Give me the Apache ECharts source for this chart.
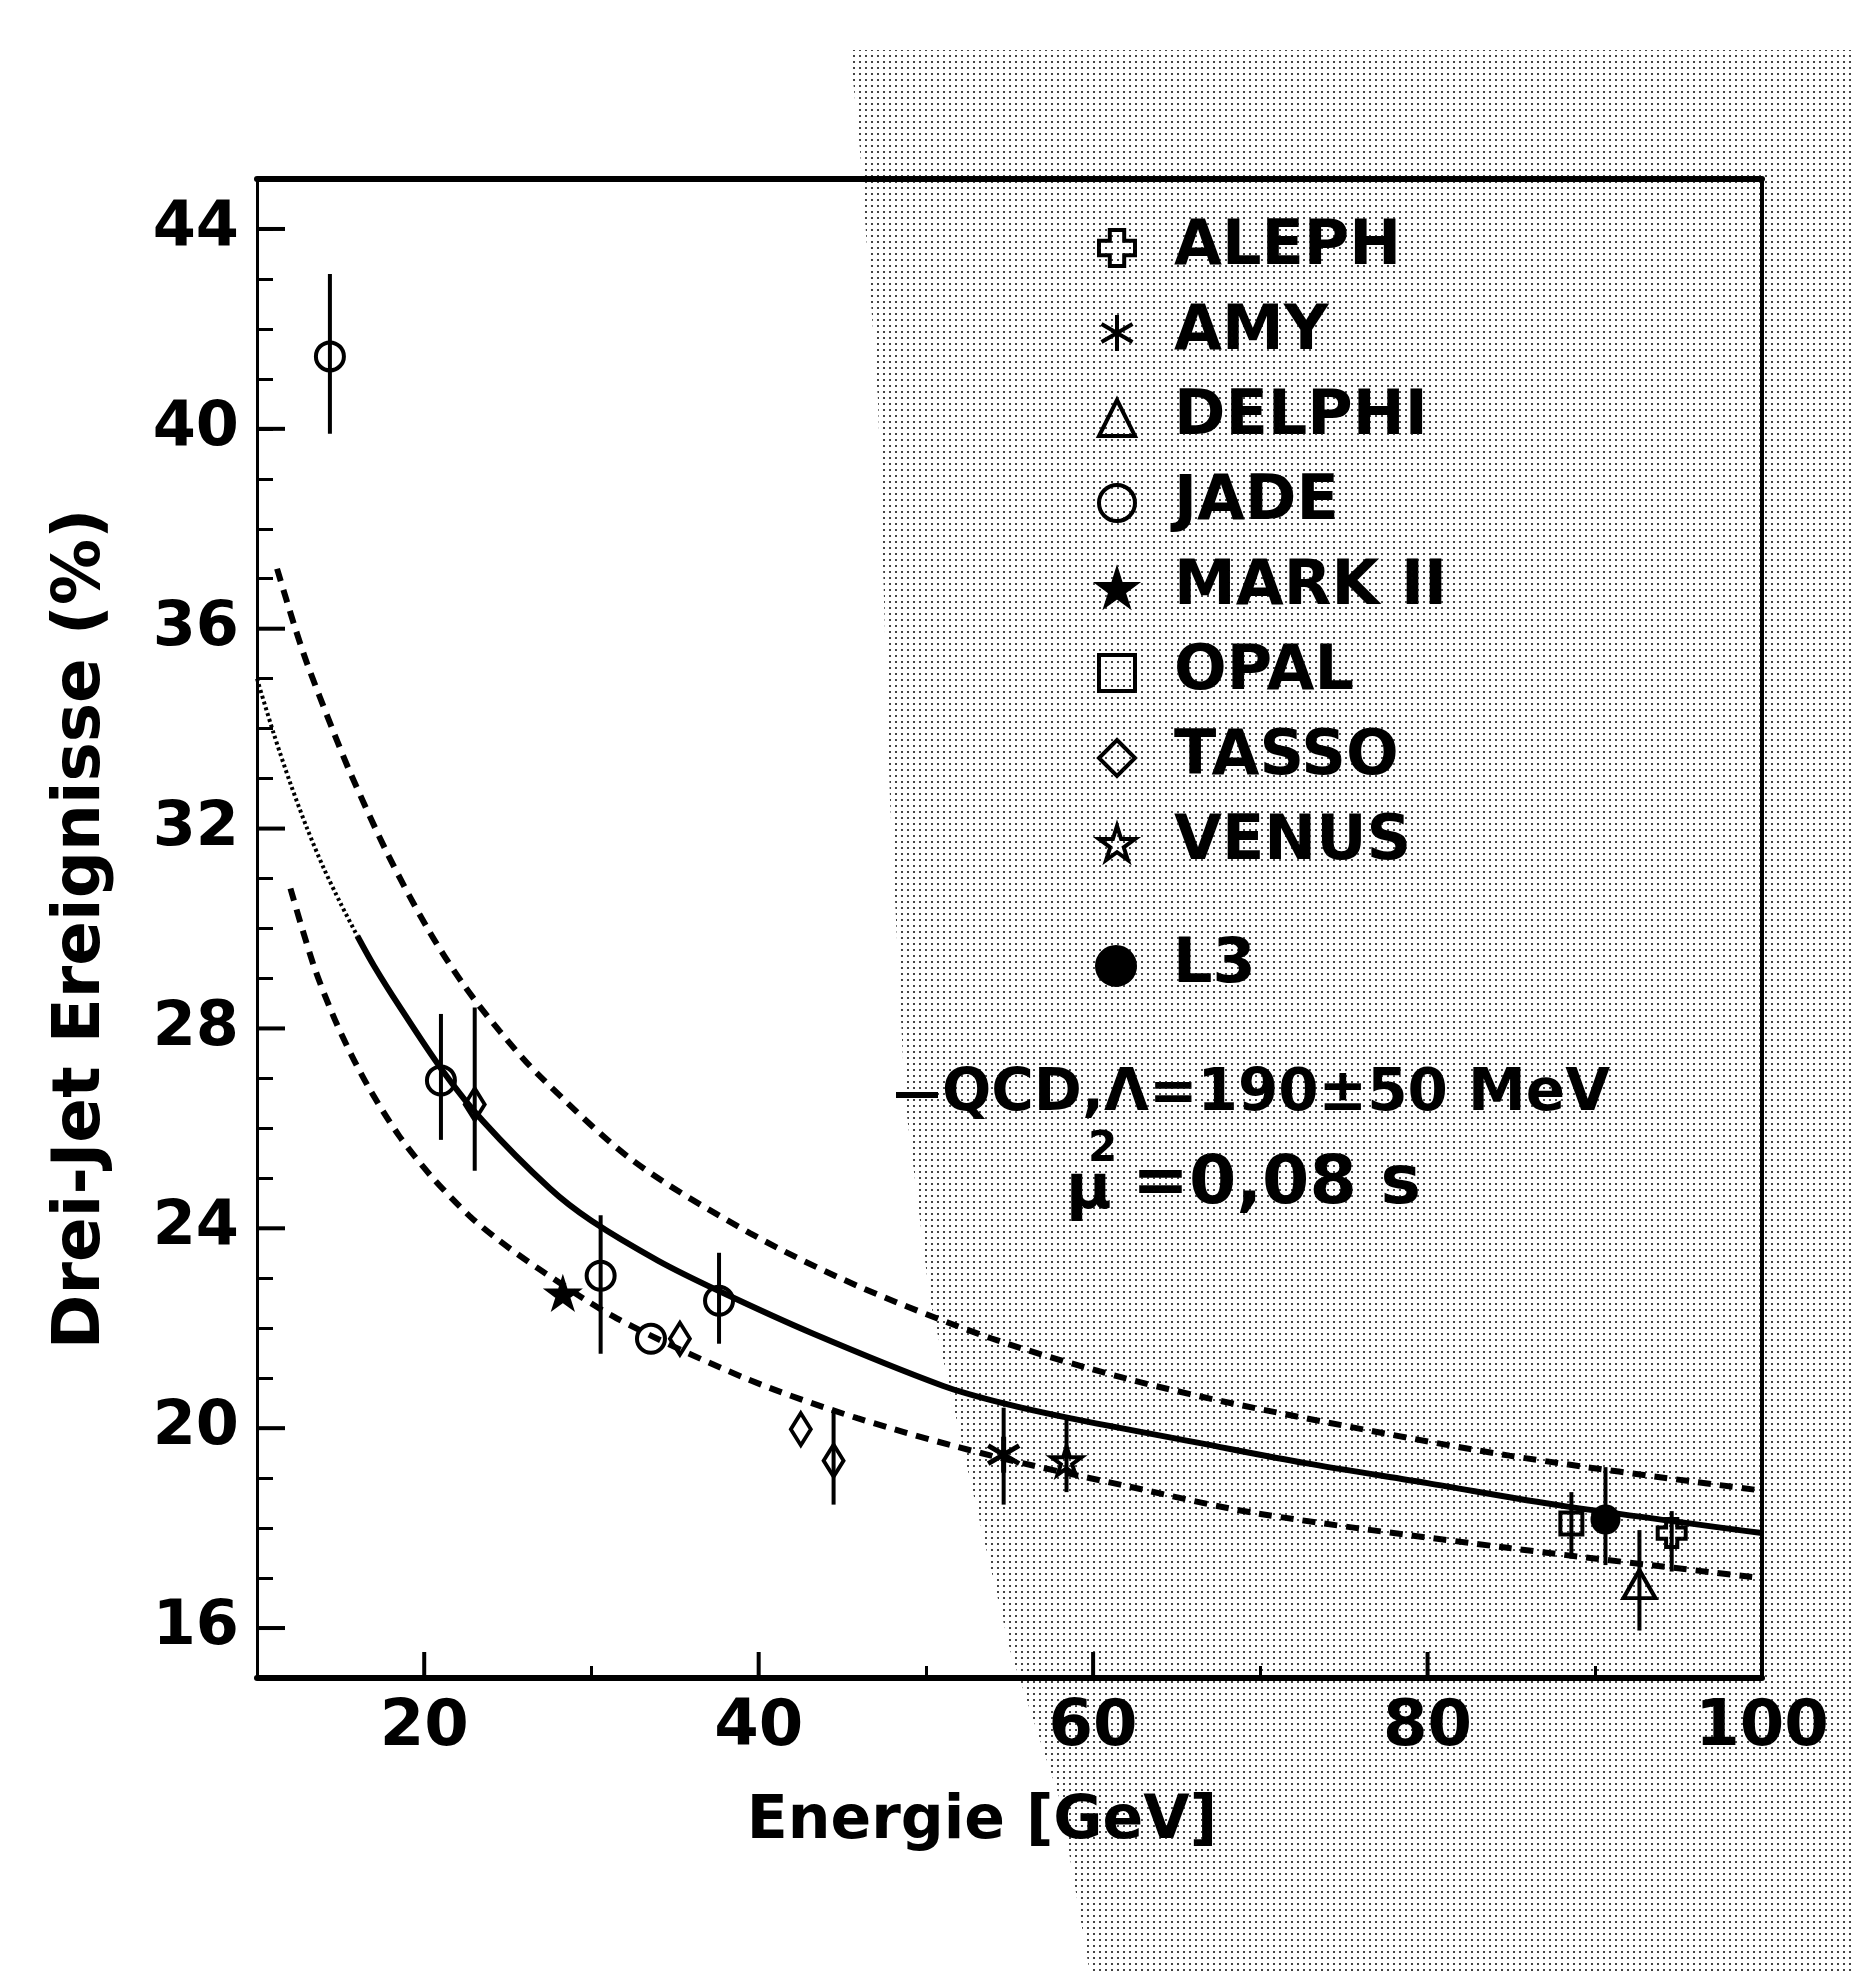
<!DOCTYPE html>
<html><head><meta charset="utf-8">
<script src="https://cdn.jsdelivr.net/npm/echarts@6/dist/echarts.min.js"></script>
<style>html,body{margin:0;padding:0;background:#fff}#c{width:1851px;height:1974px}</style>
</head><body><div id="c"></div>
<script>
// ---------- data ----------
const xTickLabels = [20, 40, 60, 80, 100];
const yTickLabels = [16, 20, 24, 28, 32, 36, 40, 44];
const experiments = ['ALEPH', 'AMY', 'DELPHI', 'JADE', 'MARK II', 'OPAL', 'TASSO', 'VENUS'];

const alephPts = [[94.6, 17.9]];
const alephErr = [[94.6, 17.13, 18.34]];
const amyPts = [[54.65, 19.47]];
const amyErr = [[54.65, 18.47, 20.41]];
const delphiPts = [[92.67, 16.88]];
const delphiErr = [[92.67, 15.95, 17.96]];
const jadePts = [[14.36, 41.45], [21.0, 26.96], [30.55, 23.05], [33.56, 21.79], [37.63, 22.55]];
const jadeErr = [[14.36, 39.9, 43.1], [21.0, 25.77, 28.29], [30.55, 21.49, 24.26], [37.63, 21.69, 23.51]];
const mark2Pts = [[28.29, 22.7]];
const opalPts = [[88.6, 18.09]];
const opalErr = [[88.6, 17.39, 18.72]];
const tassoPts = [[23.02, 26.48], [35.29, 21.79], [42.52, 19.98], [44.48, 19.35]];
const tassoErr = [[23.02, 25.15, 28.42], [44.48, 18.47, 20.36]];
const venusPts = [[58.41, 19.35]];
const venusErr = [[58.41, 18.72, 20.23]];
const l3Pts = [[90.64, 18.17]];
const l3Err = [[90.64, 17.26, 19.22]];

// QCD fit, Lambda = 190 MeV (solid) and the +-50 MeV band (dashed)
const qcdCurve = [[10, 35.0], [11, 33.9], [12, 32.9], [13, 32.0], [14, 31.2], [15, 30.5], [16, 29.85],
  [17, 29.25], [18.5, 28.45], [21, 27.2], [23.5, 26.15], [27.5, 24.8], [30, 24.15], [34, 23.35],
  [37.6, 22.75], [43.2, 21.9], [51, 20.85], [54.6, 20.5], [58.6, 20.2], [66.4, 19.7], [72.7, 19.3],
  [80, 18.9], [88, 18.45], [100, 17.9]];
const qcdUpper = [[11.2, 37.2], [12.2, 36.1], [13, 35.3], [14.5, 34.0], [15.6, 33.1], [17.8, 31.5],
  [20.2, 30.0], [22.3, 28.9], [24.5, 27.95], [26.9, 27.05], [32.5, 25.35], [39.5, 23.9], [45.9, 22.85],
  [53.9, 21.8], [61.9, 21.0], [69.7, 20.4], [84.9, 19.45], [100, 18.75]];
const qcdLower = [[12.0, 30.8], [13.35, 29.3], [14.5, 28.3], [15.6, 27.5], [16.8, 26.75], [18.5, 25.85],
  [20.4, 25.05], [22.7, 24.25], [24.5, 23.75], [26.8, 23.2], [31.5, 22.2], [39.2, 21.0], [45.9, 20.2],
  [53.9, 19.45], [61.9, 18.85], [69.7, 18.3], [84.9, 17.6], [100, 17.0]];

// ---------- chart ----------
const FONT = '"DejaVu Sans", "Liberation Sans", sans-serif';
const xMin = 10, xMax = 100, yMin = 15, yMax = 45;
const chart = echarts.init(document.getElementById('c'), null, {renderer: 'canvas'});

// halftone dot pattern of the scanned grey area
const pc = document.createElement('canvas');
pc.width = 6; pc.height = 6;
const g = pc.getContext('2d');
g.fillStyle = '#fff'; g.fillRect(0, 0, 6, 6);
g.fillStyle = '#444'; g.fillRect(1, 1, 2, 2);

const SYM = {
  cross: 'path://M3,0H7V3H10V7H7V10H3V7H0V3H3Z',
  asterisk: 'path://M5,0L5,10M0.7,2.5L9.3,7.5M0.7,7.5L9.3,2.5',
  star: 'path://M50,0L61,35L98,35L68,57L79,91L50,70L21,91L32,57L2,35L39,35Z'
};
function scatter(name, data, symbol, size, filled, bw) {
  return {
    name, type: 'scatter', data, symbol, symbolSize: size, symbolKeepAspect: true, z: 6,
    itemStyle: {color: filled ? '#000' : 'rgba(0,0,0,0)', borderColor: '#000', borderWidth: bw, opacity: 1},
    emphasis: {disabled: true}
  };
}
function curve(name, data, width, type) {
  return {type: 'line', name, data, showSymbol: false, smooth: 0.3, z: 3,
    lineStyle: {color: '#000', width, type}, emphasis: {disabled: true}};
}
const allErr = [].concat(alephErr, amyErr, delphiErr, jadeErr, opalErr, tassoErr, venusErr, l3Err);
const faint = qcdCurve.filter(p => p[0] <= 16);
const solid = qcdCurve.filter(p => p[0] >= 16);
const legendText = {fontSize: 62, fontWeight: 'bold', fontFamily: FONT, color: '#000', padding: [0, 0, 0, 34]};

const option = {
  backgroundColor: '#fff',
  animation: false,
  grid: {left: 257, right: 89, top: 179, bottom: 296, show: false},
  xAxis: [{
    type: 'value', min: xMin, max: xMax, interval: 10, position: 'bottom',
    axisLine: {show: true, onZero: false, lineStyle: {color: '#000', width: 6}},
    axisTick: {show: true, inside: true, length: 12, lineStyle: {color: '#000', width: 3}},
    splitLine: {show: false},
    axisLabel: {margin: 18, color: '#000', fontSize: 64, fontWeight: 'bold', fontFamily: FONT,
      formatter: v => xTickLabels.indexOf(v) >= 0 ? String(v) : ''}
  }, {
    type: 'value', min: xMin, max: xMax, position: 'top',
    axisLine: {show: true, onZero: false, lineStyle: {color: '#000', width: 6}},
    axisTick: {show: false}, axisLabel: {show: false}, splitLine: {show: false}
  }],
  yAxis: [{
    type: 'value', min: yMin, max: yMax, interval: 1, position: 'left',
    axisLine: {show: true, onZero: false, lineStyle: {color: '#000', width: 3}},
    axisTick: {show: true, inside: true, length: 16, lineStyle: {color: '#000', width: 3}},
    splitLine: {show: false},
    axisLabel: {margin: 18, color: '#000', fontSize: 62, fontWeight: 'bold', fontFamily: FONT,
      formatter: v => yTickLabels.indexOf(v) >= 0 ? String(v) : ''}
  }, {
    type: 'value', min: yMin, max: yMax, position: 'right',
    axisLine: {show: true, onZero: false, lineStyle: {color: '#000', width: 4}},
    axisTick: {show: false}, axisLabel: {show: false}, splitLine: {show: false}
  }],
  legend: [{
    data: experiments, orient: 'vertical', left: 1092, top: 212, itemWidth: 36, itemHeight: 36,
    itemGap: 23, selectedMode: false, itemStyle: {borderWidth: 4},
    textStyle: legendText
  }, {
    data: ['L3'], orient: 'vertical', left: 1090, top: 930, itemWidth: 40, itemHeight: 40, selectedMode: false,
    textStyle: Object.assign({}, legendText, {padding: [0, 0, 0, 32]})
  }],
  graphic: [
    {type: 'polygon', z: -100, silent: true,
      shape: {points: [[850, 50], [1851, 50], [1851, 1974], [1090, 1974], [1060, 1800], [1010, 1650],
        [970, 1480], [930, 1300], [905, 1100], [890, 800], [878, 400], [860, 150]]},
      style: {fill: {image: pc, repeat: 'repeat'}}},
    {type: 'text', x: 82, y: 929, rotation: Math.PI / 2, z: 10,
      style: {text: 'Drei-Jet Ereignisse (%)', font: 'bold 66px ' + FONT, fill: '#000', align: 'center', verticalAlign: 'middle'}},
    {type: 'text', x: 982, y: 1822, z: 10,
      style: {text: 'Energie [GeV]', font: 'bold 60px ' + FONT, fill: '#000', align: 'center', verticalAlign: 'middle'}},
    {type: 'line', z: 10, shape: {x1: 896, y1: 1095, x2: 938, y2: 1095}, style: {stroke: '#000', lineWidth: 6}},
    {type: 'text', x: 942, y: 1095, z: 10,
      style: {text: 'QCD,Λ=190±50 MeV', font: 'bold 58px ' + FONT, fill: '#000', align: 'left', verticalAlign: 'middle'}},
    {type: 'text', x: 1066, y: 1192, z: 10,
      style: {text: 'μ', font: 'bold 62px ' + FONT, fill: '#000', align: 'left', verticalAlign: 'middle'}},
    {type: 'text', x: 1088, y: 1150, z: 10,
      style: {text: '2', font: 'bold 42px ' + FONT, fill: '#000', align: 'left', verticalAlign: 'middle'}},
    {type: 'text', x: 1132, y: 1185, z: 10,
      style: {text: '=0,08 s', font: 'bold 68px ' + FONT, fill: '#000', align: 'left', verticalAlign: 'middle'}}
  ],
  series: [
    curve('QCD', solid, 6, 'solid'),
    curve('QCD-faint', faint, 4, [3, 3]),
    curve('QCD+', qcdUpper, 6, [13, 9]),
    curve('QCD-', qcdLower, 6, [13, 9]),
    {type: 'custom', name: 'errors', data: allErr, encode: {x: 0, y: [1, 2]}, z: 5, silent: true,
      renderItem: (params, api) => {
        const a = api.coord([api.value(0), api.value(1)]);
        const b = api.coord([api.value(0), api.value(2)]);
        return {type: 'line', shape: {x1: a[0], y1: a[1], x2: b[0], y2: b[1]}, style: {stroke: '#000', lineWidth: 4}};
      }},
    {type: 'custom', name: 'yMajor', data: yTickLabels.map(v => [xMin, v]), encode: {x: 0, y: 1}, z: 5, silent: true,
      renderItem: (params, api) => {
        const p = api.coord([xMin, api.value(1)]);
        return {type: 'line', shape: {x1: p[0], y1: p[1], x2: p[0] + 28, y2: p[1]}, style: {stroke: '#000', lineWidth: 4}};
      }},
    {type: 'custom', name: 'xMajor', data: xTickLabels.map(v => [v, yMin]), encode: {x: 0, y: 1}, z: 5, silent: true,
      renderItem: (params, api) => {
        const p = api.coord([api.value(0), yMin]);
        return {type: 'line', shape: {x1: p[0], y1: p[1], x2: p[0], y2: p[1] - 26}, style: {stroke: '#000', lineWidth: 4}};
      }},
    scatter('ALEPH', alephPts, SYM.cross, 28, false, 4),
    scatter('AMY', amyPts, SYM.asterisk, 36, false, 5),
    scatter('DELPHI', delphiPts, 'triangle', [32, 28], false, 4),
    scatter('JADE', jadePts, 'circle', 28, false, 4),
    scatter('MARK II', mark2Pts, SYM.star, 34, true, 2),
    scatter('OPAL', opalPts, 'rect', 22, false, 4),
    scatter('TASSO', tassoPts, 'diamond', [20, 32], false, 4),
    scatter('VENUS', venusPts, SYM.star, 30, false, 4),
    scatter('L3', l3Pts, 'circle', 28, true, 2)
  ]
};
chart.setOption(option);
</script>
</body></html>
